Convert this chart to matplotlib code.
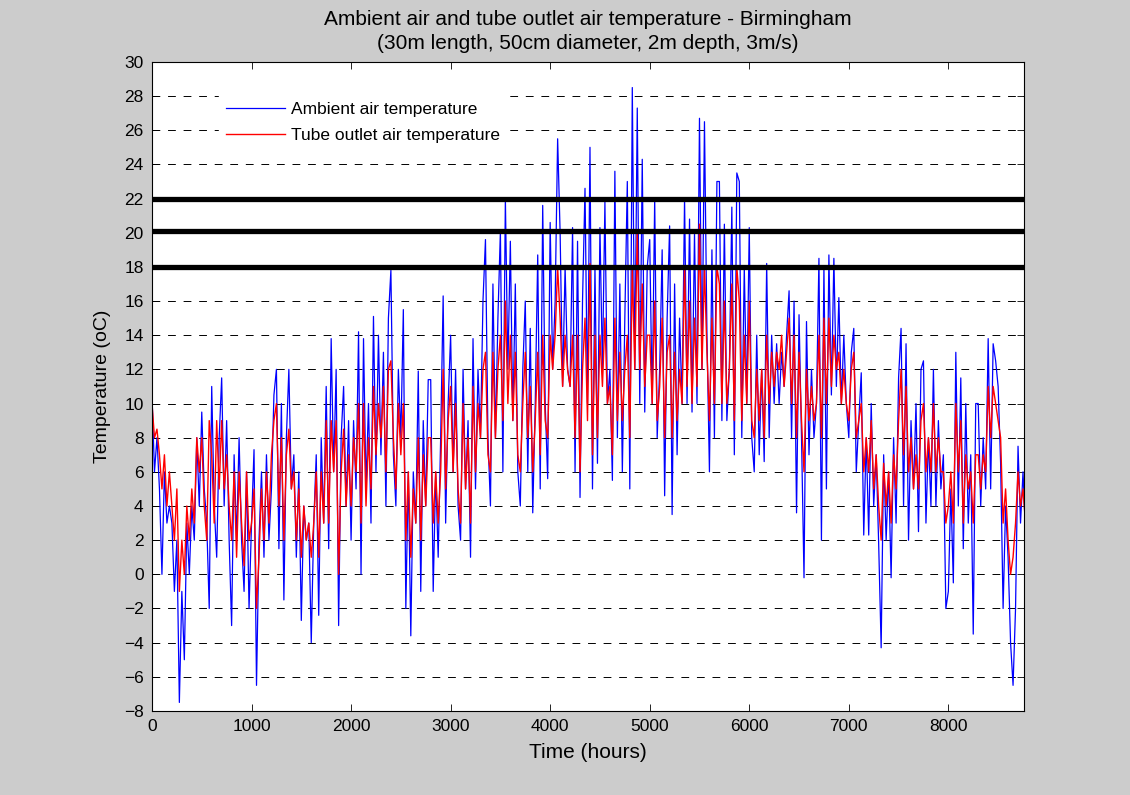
import numpy as np
import matplotlib
matplotlib.use('Agg')
import matplotlib.pyplot as plt

plt.rcParams['font.family'] = ['Liberation Sans', 'DejaVu Sans']

# hourly samples every 25 h (one row = 100 h)
ambient = [
    10.5, 6, 8, 5,    0, 6, 3, 4,    3, -1, 2, -7.5,    -1, -5, 3, 0,    4, 2, 8, 4,
    9.5, 5, 3, -2,    11, 4, 1, 8,    11.5, 4, 9, 2,    -3, 7, 2, 8,    2, -1, 6, -2,
    3, 7.3, -6.5, 2,    6, 1, 7, 2,    5, 10.5, 12, 1.5,    10, -1.5, 8, 12,    5, 7, 1, 6,
    -2.7, 4, 2, 3,    -4, 3, 7, -2.4,    8, 3, 11, 1.5,    13.8, 6, 12, -3,    8, 11, 4, 9,
    2, 9, 5, 14.2,    0, 13.8, 5, 10,    3, 15.1, 6, 14,    7, 13, 4, 15,    17.8, 7, 4, 12,
    8, 15.5, -2, 6,    -3.6, 6, 3, 11.9,    -1, 9, 4, 11.4,    11.4, -1, 6, 1,    8, 16.3, 3, 10,
    14, 6, 12, 4,    2, 12, 5, 9,    1, 13.8, 5, 12,    8, 16, 19.6, 8,    4, 17, 8, 15,
    20.1, 6, 22, 12,    19.5, 9, 17, 6,    4, 12, 16, 6,    14.4, 3.6, 10, 18.7,    5, 21.6, 10, 5.6,
    20.6, 12, 16, 25.5,    20, 11, 18, 12,    11, 20.3, 6, 19.5,    4.5, 16, 22.6, 10,    25, 5, 18, 6.5,
    20.3, 12, 21.8, 10,    12, 5.5, 23.6, 8,    17, 6, 15, 23,    5, 28.5, 12, 27.3,    10, 24.3, 9.5, 18,
    19.6, 10, 22, 8,    12, 19, 4.6, 15,    20.4, 3.5, 17, 7,    15, 10, 22, 10,    20.8, 9.5, 20, 10,
    26.7, 12, 26.5, 14,    6, 19, 8, 23,    23, 9, 20.5, 9,    12, 21.5, 7, 23.5,    23, 8, 18, 10,
    20.3, 8, 6, 14,    7, 12, 6.6, 18.2,    8, 14, 10, 13.5,    10, 13, 11, 14,    16.6, 8, 16, 3.6,
    15.2, 8, -0.2, 14.8,    7, 12, 8, 10,    18.5, 2, 18, 5,    18.7, 10.5, 18.5, 11,    16.2, 10, 14, 10,
    8, 13, 14.4, 6,    9, 11.8, 2.3, 8,    2.3, 10, 4, 7,    1.8, -4.3, 7, 2,    6, -0.2, 8, 3,
    11.5, 14.4, 4, 13.5,    2, 9, 5, 10,    2.5, 12, 12.5, 3,    8, 4, 12, 4,    9, 5, 7, -2,
    -1, 5, -0.5, 13,    4, 11.5, 1.5, 10,    3, 7, -3.5, 10,    10, 4, 8, 5,    13.8, 5, 13.5, 12.5,
    11, 6.5, -2, 4,    1, -4, -6.5, -2,    7.5, 3, 6, 2.5,
]

tube = [
    10, 8, 8.5, 7,    5, 7, 4, 6,    4, 2, 5, -1,    2, 0, 4, 2,    5, 3, 8, 6,
    8, 4, 2, 9,    7, 3, 9, 5,    9, 5, 7, 4,    2, 6, 1, 6,    3, 0.5, 6, 2,
    3, 5, -2, 1,    5, 2, 6, 3,    7, 9, 10, 4,    8, 2, 7, 8.5,    5, 6, 2, 5,
    1, 4, 2, 3,    1, 3, 6, 1,    6, 3, 9, 3,    9, 6, 9, 0,    6, 8.5, 4, 7,
    4, 8, 6, 10,    3, 10, 4, 8,    5, 11, 7, 10,    8, 11, 6, 12,    12.5, 8, 5, 10,
    7, 10, 2, 6,    1, 5, 3, 8,    2, 7, 4, 8,    8, 3, 6, 3,    6, 12, 5, 9,
    11, 6, 10, 5,    3, 10, 5, 8,    3, 11, 6, 10,    8, 12, 13, 7,    6, 13, 8, 12,
    14, 9, 16, 10,    14, 9, 13, 7,    6, 10, 13, 8,    11, 6, 9, 13,    7, 14, 9, 8,
    14, 12, 14, 18,    15, 11, 14, 12,    11, 14, 8, 14,    6, 12, 15, 9,    18.2, 7, 14, 8,
    14, 11, 15, 10,    11, 7, 15, 9,    13, 9, 12, 14,    8, 18, 12, 20,    12, 17, 11, 14,
    14, 10, 16, 9,    11, 15, 8, 13,    14, 8, 13, 9,    12, 10, 18, 11,    16, 10, 15, 11,
    20.5, 12, 18, 13,    9, 15, 10, 18,    17, 10, 16, 10,    12, 17, 9, 18,    16, 9, 14, 10,
    16, 9, 8, 12,    9, 12, 8, 14,    10, 13, 11, 13,    12, 14, 11, 13,    15, 10, 14, 8,
    13, 9, 6, 12,    9, 11, 9, 10,    14, 8, 15, 10,    15, 11, 14, 12,    13, 10, 12, 10,
    9, 12, 13, 8,    9, 10, 6, 8,    6, 9, 5, 7,    4, 2, 6.5, 4,    6, 3, 7, 5,
    9, 12, 7, 11,    6, 8, 5, 7,    5, 9, 10, 6,    8, 6, 10, 6,    8, 6, 6, 3,
    4, 6, 3, 10,    6, 9, 3, 7,    5, 6, 3, 7,    7, 5, 7, 6,    11, 8, 11, 10,
    9, 8, 3, 5,    2, 0, 1, 3,    6, 4, 5, 3,
]

comfort_lines = [22, 20.1, 18]

hours = np.arange(len(ambient)) * 25
hours_t = np.arange(len(tube)) * 25

fig = plt.figure(figsize=(11.3, 7.95), dpi=100, facecolor='#cccccc')
ax = fig.add_axes([0.1345, 0.1057, 0.7717, 0.8164])
ax.set_facecolor('white')

ax.plot(hours, ambient, color='#0000ff', lw=0.9, label='Ambient air temperature')
ax.plot(hours_t, tube, color='#ff0000', lw=1.0, label='Tube outlet air temperature')

for v in comfort_lines:
    ax.axhline(v, color='black', lw=3.8, zorder=5)

ax.set_xlim(0, 8760)
ax.set_ylim(-8, 30)
ax.set_xticks(np.arange(0, 8001, 1000))
ax.set_yticks(np.arange(-8, 31, 2))
ax.tick_params(direction='in', top=True, right=True, labelsize=12.5, length=5, width=0.6, pad=6)
ax.yaxis.grid(True, color='black', linestyle=(0, (8, 8)), lw=0.7)
for s in ax.spines.values():
    s.set_linewidth(0.8)

ax.set_xlabel('Time (hours)', fontsize=15, labelpad=6)
ax.set_ylabel('Temperature (oC)', fontsize=14, labelpad=9)
ax.set_title('Ambient air and tube outlet air temperature - Birmingham\n'
             '(30m length, 50cm diameter, 2m depth, 3m/s)', fontsize=15,
             linespacing=1.35, pad=9)

leg = ax.legend(loc='upper left', bbox_to_anchor=(0.067, 0.962), frameon=True,
                fontsize=12.5, handlelength=3.4, handletextpad=0.35,
                labelspacing=0.62, fancybox=False, framealpha=1)
leg.get_frame().set_edgecolor('white')
leg.get_frame().set_facecolor('white')
leg.set_zorder(6)

fig.savefig('out.png', dpi=100, facecolor=fig.get_facecolor())
